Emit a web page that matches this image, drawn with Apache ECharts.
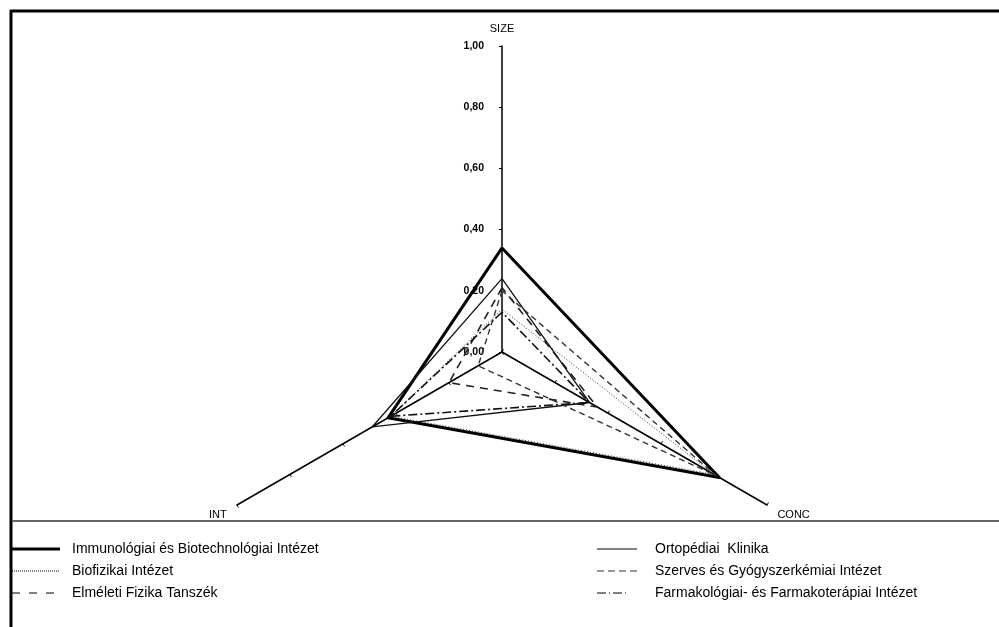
<!DOCTYPE html>
<html>
<head>
<meta charset="utf-8">
<script src="https://cdn.jsdelivr.net/npm/echarts@6/dist/echarts.min.js"></script>
<style>
html,body{margin:0;padding:0;background:#fff;}
#c{width:999px;height:627px;}
</style>
</head>
<body>
<div id="c"></div>
<script>
// ---- data ----
var indicators = ['SIZE', 'INT', 'CONC'];
var tickLabels = ['0,00', '0,20', '0,40', '0,60', '0,80', '1,00'];
var seriesNames = [
  'Immunológiai és Biotechnológiai Intézet',
  'Biofizikai Intézet',
  'Elméleti Fizika Tanszék',
  'Ortopédiai  Klinika',
  'Szerves és Gyógyszerkémiai Intézet',
  'Farmakológiai- és Farmakoterápiai Intézet'
];
// values in order [SIZE, INT, CONC]
var immuno     = [0.34, 0.43, 0.82];
var biofizikai = [0.14, 0.42, 0.80];
var elmeleti   = [0.21, 0.20, 0.36];
var ortopediai = [0.24, 0.49, 0.33];
var szerves    = [0.20, 0.09, 0.81];
var farmako    = [0.13, 0.42, 0.33];

var values = [immuno, biofizikai, elmeleti, ortopediai, szerves, farmako];
var styles = [
  {color:'#000', width:3, type:'solid'},
  {color:'#333', width:1, type:[1,2]},
  {color:'#222', width:1.6, type:[8,6]},
  {color:'#111', width:1.3, type:'solid'},
  {color:'#333', width:1.4, type:[6,4]},
  {color:'#111', width:1.6, type:[9,3,2,3]}
];
var icons = [
  'path://M0,0H48V3H0Z',
  'path://M0,0H1V1H0Z M2,0H3V1H2Z M4,0H5V1H4Z M6,0H7V1H6Z M8,0H9V1H8Z M10,0H11V1H10Z M12,0H13V1H12Z M14,0H15V1H14Z M16,0H17V1H16Z M18,0H19V1H18Z M20,0H21V1H20Z M22,0H23V1H22Z M24,0H25V1H24Z M26,0H27V1H26Z M28,0H29V1H28Z M30,0H31V1H30Z M32,0H33V1H32Z M34,0H35V1H34Z M36,0H37V1H36Z M38,0H39V1H38Z M40,0H41V1H40Z M42,0H43V1H42Z M44,0H45V1H44Z M46,0H47V1H46Z',
  'path://M0,0H8V1H0Z M17,0H25V1H17Z M34,0H42V1H34Z',
  'path://M0,0H40V1H0Z',
  'path://M0,0H7V1H0Z M11,0H18V1H11Z M22,0H29V1H22Z M33,0H40V1H33Z',
  'path://M0,0H9V1H0Z M12,0H13V1H12Z M16,0H25V1H16Z M28,0H29V1H28Z'
];
var iconSizes = [[48,3],[47,1],[42,1],[40,1],[40,1],[29,1]];
var legendPos = [
  [12,542],[12,564],[12,586],[597,542],[597,564],[597,586]
];
var textPad = [7, 8, 13, 13, 13, 24];

var chart = echarts.init(document.getElementById('c'));

var indicatorOpts = indicators.map(function(n, i){
  var o = {name: n, min: 0, max: 1};
  if (i !== 0) { o.axisLabel = {show: false}; }
  return o;
});

var legends = seriesNames.map(function(n, i){
  return {
    left: legendPos[i][0], top: legendPos[i][1],
    orient: 'vertical',
    padding: 0,
    itemWidth: iconSizes[i][0], itemHeight: iconSizes[i][1],
    selectedMode: false,
    data: [{name: n, icon: icons[i], itemStyle: {color: i === 4 ? '#333' : '#000'}}],
    textStyle: {fontFamily: 'Liberation Sans, Arial', fontSize: 14, color: '#000', padding: [0,0,0,textPad[i]]}
  };
});

var series = seriesNames.map(function(n, i){
  return {
    type: 'radar',
    name: n,
    symbol: 'none',
    silent: true,
    itemStyle: {color: styles[i].color},
    lineStyle: {color: styles[i].color, width: styles[i].width, type: styles[i].type},
    data: [{name: n, value: values[i]}]
  };
});

chart.setOption({
  animation: false,
  backgroundColor: '#fff',
  legend: legends,
  radar: {
    center: [502, 352],
    radius: 306,
    startAngle: 90,
    shape: 'polygon',
    splitNumber: 5,
    indicator: indicatorOpts,
    axisName: {
      color: '#000', fontFamily: 'Liberation Sans, Arial', fontSize: 11,
      formatter: function(name){ return name === 'SIZE' ? '{t|' + name + '}' : '{b|' + name + '}'; },
      rich: {
        t: {fontSize: 11, color: '#000', padding: [0,0,0,0]},
        b: {fontSize: 11, color: '#000', padding: [7,0,0,0]}
      }
    },
    nameGap: 12,
    axisLine: {lineStyle: {color: '#000', width: 1.5}},
    axisTick: {show: true, length: 3, lineStyle: {color: '#000', width: 1}},
    axisLabel: {
      show: true, color: '#000', fontFamily: 'Liberation Sans, Arial', fontSize: 10.5, fontWeight: 'bold',
      margin: 18,
      formatter: function(v){ return tickLabels[Math.round(v * 5)]; }
    },
    splitLine: {show: false},
    splitArea: {show: false}
  },
  graphic: [
    {type: 'line', shape: {x1: 10, y1: 11, x2: 999, y2: 11}, style: {stroke: '#000', lineWidth: 3}, z: 100},
    {type: 'line', shape: {x1: 11, y1: 10, x2: 11, y2: 627}, style: {stroke: '#000', lineWidth: 3}, z: 100},
    {type: 'line', shape: {x1: 12, y1: 521, x2: 999, y2: 521}, style: {stroke: '#666', lineWidth: 2}, z: 100}
  ],
  series: series
});
</script>
</body>
</html>
